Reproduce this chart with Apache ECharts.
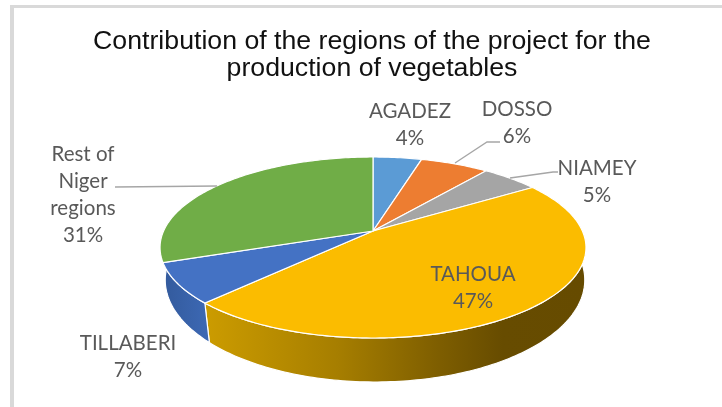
<!DOCTYPE html>
<html><head><meta charset="utf-8">
<style>html,body{margin:0;padding:0;background:#fff}#c{width:722px;height:407px}</style>
<script src="https://cdn.jsdelivr.net/npm/echarts@6/dist/echarts.min.js"></script>
</head><body><div id="c"></div>
<script>
const titleText = 'Contribution of the regions of the project for the\nproduction of vegetables';
const categories = ['AGADEZ', 'DOSSO', 'NIAMEY', 'TAHOUA', 'TILLABERI', 'Rest of\nNiger\nregions'];
const shares = [4.4, 6.2, 5.2, 46.5, 7.2, 30.5];
const colors = ['#5B9BD5', '#ED7D31', '#A5A5A5', '#FBBC00', '#4472C4', '#70AD47'];

// Perspective projection of the pie disc; the wall's lower rim has its own scale and offset
const CX = 373, CY = 231, K = 0.1823, A = 87.5, B = 209.4;
const TOP = {sx: 1, sy: 1, dx: 0, dy: 0};
const RIM = {sx: 0.985, sy: 1.127, dx: 2, dy: 30.4};
function project(deg, f) {
  const r = deg * Math.PI / 180, u = Math.sin(r), v = -Math.cos(r), w = 1 - K * v;
  return [CX + f.dx + f.sx * B * u / w, CY + f.dy + f.sy * A * v / w];
}
const total = shares.reduce((a, b) => a + b, 0);
const startAngles = []; let acc = 0;
shares.forEach(s => { startAngles.push(acc / total * 360); acc += s; });
function arc(a0, a1, f) {
  const pts = [], n = Math.max(2, Math.ceil(a1 - a0));
  for (let i = 0; i <= n; i++) pts.push(project(a0 + (a1 - a0) * i / n, f));
  return pts;
}
// Only the two front slices show a wall; the left one runs on to the disc's silhouette
const wallFill = [
  null, null, null,
  new echarts.graphic.LinearGradient(0, 0, 1, 0, [
    {offset: 0, color: '#CC9C00'}, {offset: 0.35, color: '#A67E00'},
    {offset: 0.62, color: '#7D5D00'}, {offset: 0.78, color: '#674C00'}, {offset: 1, color: '#664B00'}]),
  new echarts.graphic.LinearGradient(0, 0, 1, 0, [
    {offset: 0, color: '#335A9C'}, {offset: 1, color: '#3D69B5'}]),
  null
];
const wallRunOn = [0, 0, 0, 0, 14, 0];
const labelSpots = [[410, 124.5], [517, 123], [597, 181.5], [473, 287.5], [128, 356.5], [83, 194.5]];
const leaders = [null, [[455, 163], [487, 142], [500, 142]], [[510, 178], [553, 172], [558, 172]], null, null, [[115, 187], [217, 186]]];

const seriesData = shares.map((s, i) => ({value: [i, s]}));
const chart = echarts.init(document.getElementById('c'), null, {renderer: 'canvas'});
chart.setOption({
  animation: false,
  backgroundColor: '#fff',
  title: {
    text: titleText, left: 367, top: 23, textAlign: 'center',
    textStyle: {fontFamily: 'Liberation Sans', fontSize: 26.7, fontWeight: 'normal', color: '#111', lineHeight: 27}
  },
  graphic: [
    {type: 'rect', shape: {x: 10, y: 5, width: 712, height: 3}, style: {fill: '#D9D9D9'}, silent: true},
    {type: 'rect', shape: {x: 10, y: 5, width: 4, height: 402}, style: {fill: '#D9D9D9'}, silent: true}
  ],
  series: [
    {
      type: 'custom', coordinateSystem: 'none', silent: true, z: 1, data: seriesData,
      renderItem(p, api) {
        const i = api.value(0), a0 = startAngles[i], a1 = a0 + api.value(1) / total * 360;
        if (!wallFill[i]) return null;
        const pts = arc(a0, a1, TOP).concat(arc(a0, a1 + wallRunOn[i], RIM).reverse());
        return {type: 'polygon', shape: {points: pts}, style: {fill: wallFill[i], stroke: '#fff', lineWidth: 1.2}};
      }
    },
    {
      type: 'custom', coordinateSystem: 'none', silent: true, z: 2, data: seriesData,
      renderItem(p, api) {
        const i = api.value(0), a0 = startAngles[i], a1 = a0 + api.value(1) / total * 360;
        const pts = [[CX, CY]].concat(arc(a0, a1, TOP));
        return {type: 'polygon', shape: {points: pts}, style: {fill: colors[i], stroke: '#fff', lineWidth: 1.2}};
      }
    },
    {
      type: 'custom', coordinateSystem: 'none', silent: true, z: 3, data: seriesData,
      renderItem(p, api) {
        const i = api.value(0), children = [];
        if (leaders[i]) children.push({type: 'polyline', shape: {points: leaders[i]},
          style: {fill: null, stroke: '#A6A6A6', lineWidth: 1.3}});
        children.push({type: 'text', x: labelSpots[i][0], y: labelSpots[i][1], style: {
          text: categories[i] + '\n' + Math.round(api.value(1)) + '%',
          align: 'center', verticalAlign: 'middle', fontFamily: 'Lato', fontSize: 20.5,
          lineHeight: 27, fill: '#595959'}});
        return {type: 'group', children};
      }
    }
  ]
});
</script></body></html>
